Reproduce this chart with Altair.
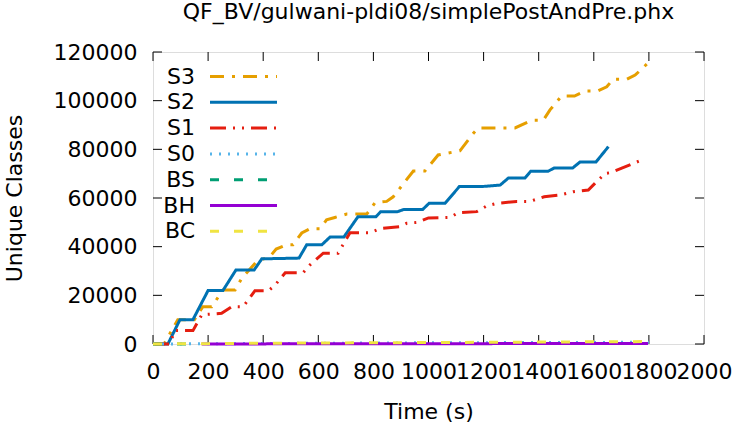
import altair as alt
import pandas as pd

FONT = "DejaVu Sans"

series_names = ["S3", "S2", "S1", "S0", "BS", "BH", "BC"]
series_colors = ["#e69f00", "#0072b2", "#e51e10", "#56b4e9", "#009e73", "#9400d3", "#f0e442"]
series_dashes = [[14, 8, 3, 8], [1, 0], [16, 7, 2, 7, 2, 7], [2, 7], [9, 15], [1, 0], [9, 15]]

s3_t = [0, 40, 90, 150, 181, 213, 254, 298, 322, 376, 425, 447, 485, 508, 540, 570, 606, 630, 660, 703, 776, 806, 848, 872, 945, 987, 1035, 1114, 1163, 1181, 1314, 1375, 1417, 1441, 1483, 1530, 1568, 1615, 1647, 1670, 1720, 1750, 1798]
s3_v = [0, 0, 10000, 10000, 15300, 15300, 22200, 22200, 27000, 33800, 36000, 39000, 40800, 40800, 45600, 47400, 47400, 51000, 52000, 53400, 53400, 58100, 58600, 60500, 71100, 71100, 77700, 79400, 86600, 88800, 88800, 92000, 92000, 96200, 101900, 101900, 104000, 104000, 105700, 108800, 108800, 110500, 115600]

s2_t = [0, 54, 98, 145, 200, 254, 301, 367, 395, 530, 558, 613, 643, 693, 744, 809, 826, 886, 911, 979, 1002, 1060, 1112, 1193, 1260, 1290, 1350, 1371, 1434, 1456, 1523, 1550, 1608, 1653]
s2_v = [0, 0, 10000, 10000, 22000, 22000, 30400, 30400, 35000, 35300, 40800, 40800, 44000, 44000, 52300, 52300, 54300, 54300, 55300, 55300, 57800, 57800, 64700, 64700, 65300, 68200, 68200, 71000, 71000, 72300, 72300, 74800, 74800, 81100]

s1_t = [0, 60, 80, 145, 177, 249, 286, 327, 370, 419, 443, 480, 545, 570, 618, 672, 715, 788, 824, 896, 921, 960, 1000, 1078, 1108, 1175, 1211, 1248, 1320, 1368, 1420, 1477, 1526, 1580, 1604, 1641, 1660, 1731, 1780]
s1_v = [0, 0, 5500, 5500, 12000, 12600, 15300, 15300, 21900, 21900, 24200, 29300, 29300, 32500, 37300, 37300, 45700, 45700, 47400, 48200, 49600, 50000, 51800, 52000, 54000, 54400, 56700, 57800, 58600, 58600, 60500, 61200, 62600, 63300, 66000, 70100, 70400, 73600, 75900]

s0_t = [0, 200, 400, 600, 800, 1000, 1200, 1400, 1600, 1800]
s0_v = [0, 100, 200, 300, 400, 500, 550, 600, 650, 700]

bs_t = [0, 170]
bs_v = [0, 0]

bh_t = [177, 400, 800, 1200, 1600, 1797]
bh_v = [0, 50, 100, 150, 200, 250]

bc_t = [0, 200, 400, 600, 800, 1000, 1200, 1400, 1600, 1800]
bc_v = [0, 150, 300, 400, 500, 600, 700, 800, 900, 1000]

x_ticks = [0, 200, 400, 600, 800, 1000, 1200, 1400, 1600, 1800, 2000]
y_ticks = [0, 20000, 40000, 60000, 80000, 100000, 120000]

all_t = [s3_t, s2_t, s1_t, s0_t, bs_t, bh_t, bc_t]
all_v = [s3_v, s2_v, s1_v, s0_v, bs_v, bh_v, bc_v]

rows = []
for k, (name, ts, vs) in enumerate(zip(series_names, all_t, all_v)):
    for i, (t, v) in enumerate(zip(ts, vs)):
        rows.append({"series": name, "order": k, "idx": i, "t": t, "v": v})
df = pd.DataFrame(rows)

legend_df = pd.DataFrame({"series": series_names, "row": list(range(len(series_names)))})
xt_df = pd.DataFrame({"t": x_ticks})
yt_df = pd.DataFrame({"v": y_ticks})

W, H = 551, 292

color_scale = alt.Scale(domain=series_names, range=series_colors)
dash_scale = alt.Scale(domain=series_names, range=series_dashes)

x_enc = alt.X("t:Q", scale=alt.Scale(domain=[0, 2000], nice=False),
              axis=alt.Axis(values=x_ticks, format="d", title="Time (s)", grid=False, ticks=False, tickSize=0,
                            domain=False, labelFontSize=22, labelFont=FONT, labelPadding=17,
                            labelColor="black", labelFlush=False, labelOverlap=False,
                            titleFont=FONT, titleFontSize=22, titleFontWeight="normal",
                            titleColor="black", titleBaseline="alphabetic", titleY=74))
y_enc = alt.Y("v:Q", scale=alt.Scale(domain=[0, 120000], nice=False),
              axis=alt.Axis(values=y_ticks, format="d", title="Unique Classes", grid=False, ticks=False, tickSize=0,
                            domain=False, labelFontSize=22, labelFont=FONT, labelPadding=16,
                            labelColor="black", labelFlush=False, labelOverlap=False,
                            titleFont=FONT, titleFontSize=22, titleFontWeight="normal",
                            titleColor="black", titleBaseline="alphabetic", titleX=-132, titleY=H / 2))

lines = alt.Chart(df).mark_line(strokeWidth=3, strokeCap="butt").encode(
    x=x_enc,
    y=y_enc,
    color=alt.Color("series:N", scale=color_scale, legend=None),
    strokeDash=alt.StrokeDash("series:N", scale=dash_scale, legend=None),
    order=alt.Order("idx:Q"),
)

tick_style = dict(color="black", strokeWidth=1)
xb = alt.Chart(xt_df).mark_rule(**tick_style).encode(x=alt.X("t:Q"), y=alt.value(H), y2=alt.value(H - 9))
xtp = alt.Chart(xt_df).mark_rule(**tick_style).encode(x=alt.X("t:Q"), y=alt.value(0), y2=alt.value(9))
yl = alt.Chart(yt_df).mark_rule(**tick_style).encode(y=alt.Y("v:Q"), x=alt.value(0), x2=alt.value(9))
yr = alt.Chart(yt_df).mark_rule(**tick_style).encode(y=alt.Y("v:Q"), x=alt.value(W), x2=alt.value(W - 9))

leg_base = alt.Chart(legend_df).transform_calculate(ly="24.5 + datum.row * 25.8")
leg_text = leg_base.mark_text(align="right", baseline="middle", fontSize=22, font=FONT, color="black").encode(
    x=alt.value(42),
    y=alt.Y("ly:Q", scale=None, axis=None),
    text="series:N",
)
leg_line = leg_base.mark_rule(strokeWidth=3, strokeCap="butt").encode(
    x=alt.value(57),
    x2=alt.value(124),
    y=alt.Y("ly:Q", scale=None, axis=None),
    color=alt.Color("series:N", scale=color_scale, legend=None),
    strokeDash=alt.StrokeDash("series:N", scale=dash_scale, legend=None),
)

chart = alt.layer(xb, xtp, yl, yr, lines, leg_text, leg_line).properties(
    width=W,
    height=H,
    title=alt.TitleParams("QF_BV/gulwani-pldi08/simplePostAndPre.phx", font=FONT, fontSize=22,
                          fontWeight="normal", color="black", anchor="middle",
                          baseline="alphabetic", offset=0),
    padding={"left": 153, "top": 52, "right": 31, "bottom": 79},
    autosize=alt.AutoSizeParams(type="none"),
).configure_view(stroke="black", strokeWidth=1).configure(background="white")

chart.save("out.html", embed_options={"renderer": "svg", "actions": False})
